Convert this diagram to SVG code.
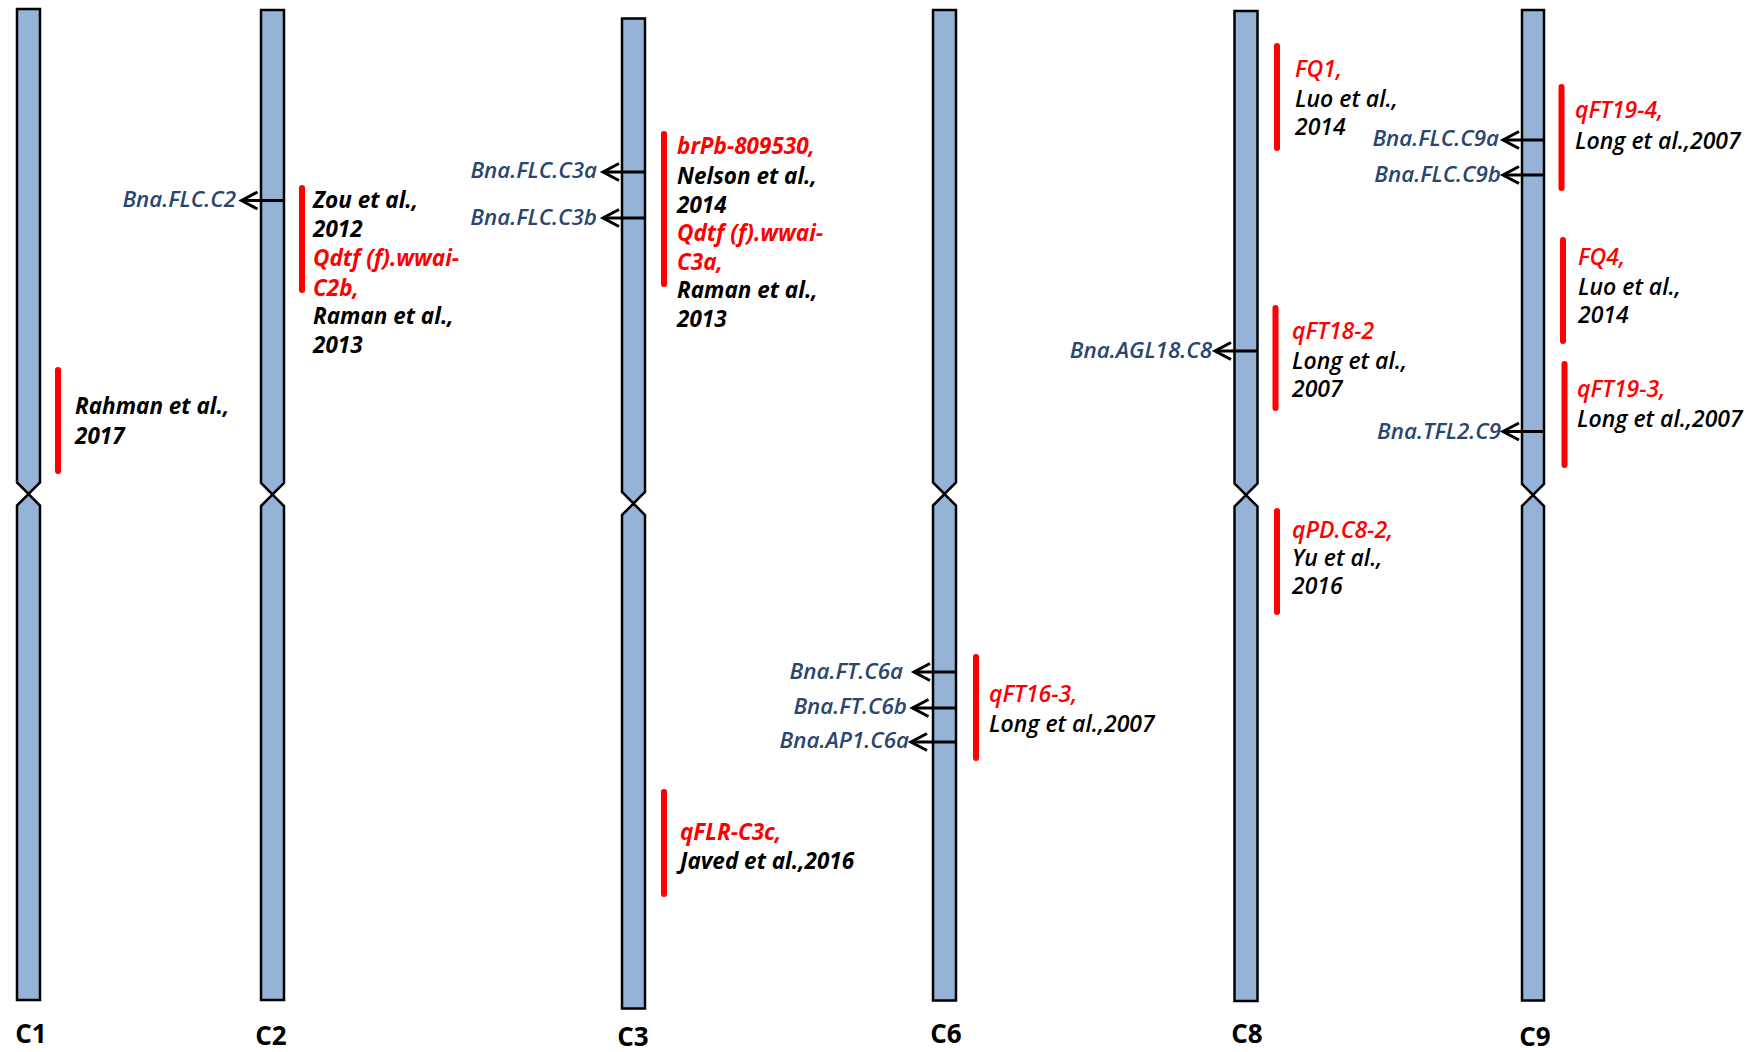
<svg xmlns="http://www.w3.org/2000/svg" width="1754" height="1052" viewBox="0 0 1754 1052">
<style>
.chr{fill:#95B3D7;stroke:#000;stroke-width:2.5;stroke-linejoin:miter}
.bar{stroke:#FF0000;stroke-width:6;stroke-linecap:round;fill:none}
.arr{stroke:#000;stroke-width:3;fill:none;marker-end:url(#ah)}
.gene{font-family:"Open Sans","Liberation Sans",sans-serif;font-style:italic;font-weight:600;font-size:22.4px;fill:#2A4670;text-anchor:end}
.refL{font-family:"Open Sans","Liberation Sans",sans-serif;font-style:italic;font-weight:700;font-size:22.5px;fill:#000}
.refR{font-family:"Open Sans","Liberation Sans",sans-serif;font-style:italic;font-weight:600;font-size:23px;fill:#000}
.q{fill:#FF0000}
.lbl{font-family:"Open Sans","Liberation Sans",sans-serif;font-weight:700;font-size:26px;fill:#000;text-anchor:middle}
</style>
<defs>
<marker id="ah" markerUnits="userSpaceOnUse" viewBox="-20 -11 24 22" markerWidth="24" markerHeight="22" refX="0" refY="0" orient="auto" overflow="visible">
<path d="M-16,-8.5 L0,0 L-16,8.5" fill="none" stroke="#000" stroke-width="3"/>
</marker>
</defs>
<rect width="1754" height="1052" fill="#fff"/>

<g id="chr-C1">
<path class="chr" d="M17,9 H40 V482.5 L28.5,494 L17,482.5 Z"/>
<path class="chr" d="M17,505.5 L28.5,494 L40,505.5 V1000 H17 Z"/>
<text class="lbl" x="31" y="1043">C1</text>
</g>
<g id="chr-C2">
<path class="chr" d="M261,10 H284 V483 L272.5,494.5 L261,483 Z"/>
<path class="chr" d="M261,506 L272.5,494.5 L284,506 V1000 H261 Z"/>
<text class="lbl" x="271" y="1045">C2</text>
</g>
<g id="chr-C3">
<path class="chr" d="M622,18.5 H645 V492 L633.5,503.5 L622,492 Z"/>
<path class="chr" d="M622,515 L633.5,503.5 L645,515 V1008.5 H622 Z"/>
<text class="lbl" x="633" y="1046">C3</text>
</g>
<g id="chr-C6">
<path class="chr" d="M933,10 H956 V482.5 L944.5,494 L933,482.5 Z"/>
<path class="chr" d="M933,505.5 L944.5,494 L956,505.5 V1000.5 H933 Z"/>
<text class="lbl" x="946" y="1043">C6</text>
</g>
<g id="chr-C8">
<path class="chr" d="M1234.5,11 H1257.5 V483.5 L1246,495 L1234.5,483.5 Z"/>
<path class="chr" d="M1234.5,506.5 L1246,495 L1257.5,506.5 V1001 H1234.5 Z"/>
<text class="lbl" x="1247" y="1043">C8</text>
</g>
<g id="chr-C9">
<path class="chr" d="M1522,10 H1544 V484 L1533,495 L1522,484 Z"/>
<path class="chr" d="M1522,506 L1533,495 L1544,506 V1000.5 H1522 Z"/>
<text class="lbl" x="1535" y="1046">C9</text>
</g>

<g id="qtl-C1-rahman">
<line class="bar" x1="58" y1="370" x2="58" y2="471"/>
<text class="refL" x="75" y="414">Rahman et al.,</text>
<text class="refL" x="75" y="444">2017</text>
</g>
<g id="qtl-C2">
<line class="bar" x1="302" y1="188" x2="302" y2="290"/>
<text class="refL" x="313" y="208">Zou et al.,</text>
<text class="refL" x="313" y="237">2012</text>
<text class="refL q" x="313" y="266">Qdtf (f).wwai-</text>
<text class="refL q" x="313" y="296">C2b,</text>
<text class="refL" x="313" y="324">Raman et al.,</text>
<text class="refL" x="313" y="353">2013</text>
</g>
<g id="qtl-C3-top">
<line class="bar" x1="664" y1="134" x2="664" y2="284"/>
<text class="refL q" x="677" y="154">brPb-809530,</text>
<text class="refL" x="677" y="184">Nelson et al.,</text>
<text class="refL" x="677" y="213">2014</text>
<text class="refL q" x="677" y="241">Qdtf (f).wwai-</text>
<text class="refL q" x="677" y="270">C3a,</text>
<text class="refL" x="677" y="298">Raman et al.,</text>
<text class="refL" x="677" y="327">2013</text>
</g>
<g id="qtl-C3-qFLR">
<line class="bar" x1="664" y1="792" x2="664" y2="894"/>
<text class="refL q" x="680" y="840">qFLR-C3c,</text>
<text class="refL" x="680" y="869">Javed et al.,2016</text>
</g>
<g id="qtl-C6-qFT16-3">
<line class="bar" x1="976" y1="657" x2="976" y2="758"/>
<text class="refR q" x="989" y="702">qFT16-3,</text>
<text class="refR" x="989" y="732">Long et al.,2007</text>
</g>
<g id="qtl-C8-FQ1">
<line class="bar" x1="1277" y1="46" x2="1277" y2="148"/>
<text class="refR q" x="1295" y="77">FQ1,</text>
<text class="refR" x="1295" y="107">Luo et al.,</text>
<text class="refR" x="1295" y="135">2014</text>
</g>
<g id="qtl-C8-qFT18-2">
<line class="bar" x1="1275.5" y1="308" x2="1275.5" y2="408"/>
<text class="refR q" x="1292" y="339">qFT18-2</text>
<text class="refR" x="1292" y="369">Long et al.,</text>
<text class="refR" x="1292" y="397">2007</text>
</g>
<g id="qtl-C8-qPD">
<line class="bar" x1="1277" y1="511" x2="1277" y2="612"/>
<text class="refR q" x="1292" y="538">qPD.C8-2,</text>
<text class="refR" x="1292" y="566">Yu et al.,</text>
<text class="refR" x="1292" y="594">2016</text>
</g>
<g id="qtl-C9-qFT19-4">
<line class="bar" x1="1561.5" y1="87" x2="1561.5" y2="188"/>
<text class="refR q" x="1575" y="118">qFT19-4,</text>
<text class="refR" x="1575" y="149">Long et al.,2007</text>
</g>
<g id="qtl-C9-FQ4">
<line class="bar" x1="1563" y1="240" x2="1563" y2="341"/>
<text class="refR q" x="1578" y="265">FQ4,</text>
<text class="refR" x="1578" y="295">Luo et al.,</text>
<text class="refR" x="1578" y="323">2014</text>
</g>
<g id="qtl-C9-qFT19-3">
<line class="bar" x1="1564.5" y1="364" x2="1564.5" y2="465"/>
<text class="refR q" x="1577" y="397">qFT19-3,</text>
<text class="refR" x="1577" y="427">Long et al.,2007</text>
</g>

<g id="gene-FLC-C2"><text class="gene" x="236" y="207">Bna.FLC.C2</text></g>
<g id="gene-FLC-C3a"><text class="gene" x="597" y="178">Bna.FLC.C3a</text></g>
<g id="gene-FLC-C3b"><text class="gene" x="597" y="225">Bna.FLC.C3b</text></g>
<g id="gene-FT-C6a"><text class="gene" x="903" y="679">Bna.FT.C6a</text></g>
<g id="gene-FT-C6b"><text class="gene" x="907" y="714">Bna.FT.C6b</text></g>
<g id="gene-AP1-C6a"><text class="gene" x="909" y="748">Bna.AP1.C6a</text></g>
<g id="gene-AGL18-C8"><text class="gene" x="1212" y="358">Bna.AGL18.C8</text></g>
<g id="gene-FLC-C9a"><text class="gene" x="1499" y="146">Bna.FLC.C9a</text></g>
<g id="gene-FLC-C9b"><text class="gene" x="1501" y="182">Bna.FLC.C9b</text></g>
<g id="gene-TFL2-C9"><text class="gene" x="1501" y="439">Bna.TFL2.C9</text></g>

<g id="connectors">
<line class="arr" x1="284" y1="200.5" x2="241.5" y2="200.5"/>
<line class="arr" x1="645" y1="172" x2="603" y2="172"/>
<line class="arr" x1="645" y1="218" x2="603" y2="218"/>
<line class="arr" x1="956" y1="672" x2="914" y2="672"/>
<line class="arr" x1="956" y1="708" x2="912.5" y2="708"/>
<line class="arr" x1="956" y1="742" x2="911" y2="742"/>
<line class="arr" x1="1257.5" y1="351" x2="1215" y2="351"/>
<line class="arr" x1="1544" y1="140" x2="1503" y2="140"/>
<line class="arr" x1="1544" y1="175" x2="1503" y2="175"/>
<line class="arr" x1="1544" y1="431.5" x2="1503" y2="431.5"/>
</g>
</svg>
